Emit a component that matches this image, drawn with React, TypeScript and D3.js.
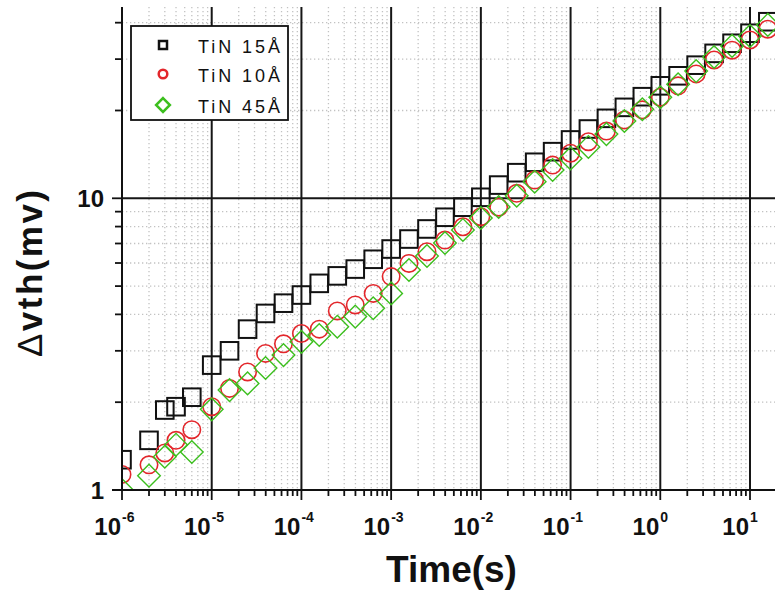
import React from "react";
import * as d3 from "d3";

const TIME = [
  1e-6, 2e-6, 3e-6, 4e-6, 6e-6,
  1e-5, 1.58e-5, 2.51e-5, 3.98e-5, 6.31e-5,
  1e-4, 1.58e-4, 2.51e-4, 3.98e-4, 6.31e-4,
  1e-3, 1.58e-3, 2.51e-3, 3.98e-3, 6.31e-3,
  1e-2, 1.58e-2, 2.51e-2, 3.98e-2, 6.31e-2,
  0.1, 0.158, 0.251, 0.398, 0.631,
  1, 1.58, 2.51, 3.98, 6.31,
  10, 15.8,
];

const TIN15 = [
  1.27, 1.48, 1.88, 1.93, 2.08,
  2.68, 3.0, 3.56, 4.03, 4.37,
  4.66, 5.11, 5.42, 5.72, 6.18,
  6.7, 7.25, 7.85, 8.61, 9.32,
  10.08, 11.1, 12.24, 13.29, 14.45,
  15.85, 17.28, 18.8, 20.5, 22.3,
  24.3, 26.3, 28.6, 31.4, 34.0,
  36.8, 40.3,
];

const TIN10 = [
  1.13, 1.22, 1.34, 1.48, 1.61,
  1.93, 2.23, 2.54, 2.94, 3.17,
  3.44, 3.56, 4.11, 4.31, 4.72,
  5.39, 5.98, 6.56, 7.19, 7.99,
  8.65, 9.32, 10.4, 11.55, 13.0,
  14.27, 15.63, 17.0, 18.55, 20.1,
  22.2, 24.3, 26.7, 29.8, 32.2,
  34.9, 38.0,
];

const TIN45 = [
  1.0, 1.12, 1.3, 1.43, 1.35,
  1.89, 2.2, 2.32, 2.62, 2.9,
  3.22, 3.4, 3.63, 3.93, 4.2,
  4.72, 5.68, 6.34, 7.03, 7.79,
  8.56, 9.34, 10.2, 11.4, 12.5,
  13.7, 15.0, 16.6, 18.4, 20.2,
  22.2, 24.6, 27.3, 30.5, 33.3,
  36.0, 39.3,
];

const SERIES_NAMES = ["TiN 15Å", "TiN 10Å", "TiN 45Å"];
const X_TICK_EXPONENTS = [-6, -5, -4, -3, -2, -1, 0, 1];
const Y_TICK_LABELS = [1, 10];

const FONT = "'Liberation Sans', Arial, Helvetica, sans-serif";
const BLACK = "#111";
const RED = "#e3262b";
const GREEN = "#3cbf1e";

function Marker({ kind, cx, cy, s, sw }: { kind: number; cx: number; cy: number; s: number; sw: number }) {
  if (kind === 0) {
    return <rect x={cx - s} y={cy - s} width={2 * s} height={2 * s} fill="none" stroke={BLACK} strokeWidth={sw} />;
  }
  if (kind === 1) {
    return <circle cx={cx} cy={cy} r={s} fill="none" stroke={RED} strokeWidth={sw} />;
  }
  const d = s * 1.3;
  return (
    <path
      d={`M${cx},${cy - d}L${cx + d},${cy}L${cx},${cy + d}L${cx - d},${cy}Z`}
      fill="none"
      stroke={GREEN}
      strokeWidth={sw}
    />
  );
}

export default function App() {
  const W = 775;
  const H = 592;
  const left = 122;
  const right = 775;
  const top = 7;
  const bottom = 490;

  const xBase = d3.scaleLog().domain([1e-6, 10]).range([left, 750]);
  const x = d3.scaleLog().domain([1e-6, xBase.invert(right)]).range([left, right]);
  const yBase = d3.scaleLog().domain([1, 10]).range([bottom, 198.3]);
  const y = d3.scaleLog().domain([1, yBase.invert(top)]).range([bottom, top]);

  const xTicks = x.ticks();
  const yTicks = y.ticks();
  const isMajor = (v: number) => Math.abs(Math.log10(v) - Math.round(Math.log10(v))) < 1e-6;

  const seriesData = [TIN15, TIN10, TIN45];

  return (
    <svg
      width={W}
      height={H}
      viewBox={`0 0 ${W} ${H}`}
      style={{ position: "absolute", left: 0, top: 0, background: "#fff" }}
      fontFamily={FONT}
    >
      <defs>
        <clipPath id="plot">
          <rect x={left} y={top} width={right - left} height={bottom - top} />
        </clipPath>
      </defs>
      <rect x={0} y={0} width={W} height={H} fill="#fff" />

      {/* minor grid */}
      <g stroke="#c2c2c2" strokeWidth={1.3} strokeDasharray="1.3,2.7">
        {xTicks.filter((v) => !isMajor(v)).map((v, i) => (
          <line key={"gx" + i} x1={x(v)} x2={x(v)} y1={top} y2={bottom} />
        ))}
        {yTicks.filter((v) => !isMajor(v)).map((v, i) => (
          <line key={"gy" + i} x1={left} x2={right} y1={y(v)} y2={y(v)} />
        ))}
      </g>

      {/* major grid */}
      <g stroke="#161616" strokeWidth={2}>
        {xTicks.filter((v) => isMajor(v) && v > 1e-6).map((v, i) => (
          <line key={"mx" + i} x1={x(v)} x2={x(v)} y1={top} y2={bottom} />
        ))}
        {yTicks.filter((v) => isMajor(v) && v > 1).map((v, i) => (
          <line key={"my" + i} x1={left} x2={right} y1={y(v)} y2={y(v)} />
        ))}
      </g>

      {/* data */}
      <g clipPath="url(#plot)">
        {seriesData.map((arr, k) => (
          <g key={"s" + k}>
            {arr.map((v, i) => (
              <Marker
                key={i}
                kind={k}
                cx={x(TIME[i])}
                cy={y(v)}
                s={k === 0 ? 8.8 : 8.7}
                sw={k === 2 ? 1.4 : k === 1 ? 1.6 : 2}
              />
            ))}
          </g>
        ))}
      </g>

      {/* axes */}
      <g stroke="#111" strokeWidth={2}>
        <line x1={left} x2={left} y1={top} y2={bottom} />
        <line x1={left - 10} x2={right} y1={bottom} y2={bottom} />
        {xTicks.map((v, i) => (
          <line key={"tx" + i} x1={x(v)} x2={x(v)} y1={bottom} y2={bottom + (isMajor(v) ? 10 : 6)} strokeWidth={1.8} />
        ))}
        {yTicks.map((v, i) => (
          <line key={"ty" + i} x1={left - (isMajor(v) ? 10 : 7)} x2={left} y1={y(v)} y2={y(v)} strokeWidth={1.8} />
        ))}
      </g>

      {/* x tick labels */}
      <g fill="#111" fontWeight="bold">
        {X_TICK_EXPONENTS.map((e) => {
          const px = x(Math.pow(10, e));
          return (
            <g key={"xl" + e}>
              <text x={px - 1} y={535} fontSize={24} textAnchor="end">10</text>
              <text x={px} y={522} fontSize={14} textAnchor="start">{e < 0 ? "-" + Math.abs(e) : String(e)}</text>
            </g>
          );
        })}
        {Y_TICK_LABELS.map((v) => (
          <text key={"yl" + v} x={104} y={y(v) + 8.5} fontSize={24} textAnchor="end">{String(v)}</text>
        ))}
      </g>

      {/* axis titles */}
      <text x={451.5} y={582} fontSize={37} fontWeight="bold" textAnchor="middle" fill="#111">Time(s)</text>
      <text
        transform={`translate(42,273.5) rotate(-90)`}
        fontSize={35}
        fontWeight="bold"
        textAnchor="middle"
        fill="#111"
        textLength={167}
        lengthAdjust="spacing"
      >
        <tspan fontWeight="normal">Δ</tspan>vth(mv)
      </text>

      {/* legend */}
      <rect x={131} y={26} width={157} height={94} fill="#fff" stroke="#111" strokeWidth={1.8} />
      {SERIES_NAMES.map((name, k) => {
        const ly = [45, 74, 105][k];
        return (
          <g key={"lg" + k}>
            <Marker kind={k} cx={163} cy={ly} s={k === 0 ? 4 : k === 1 ? 4.3 : 5.3} sw={2.5} />
            <text x={198} y={ly + 7.5} fontSize={18} fill="#111" textLength={82} lengthAdjust="spacing">{name}</text>
          </g>
        );
      })}
    </svg>
  );
}
